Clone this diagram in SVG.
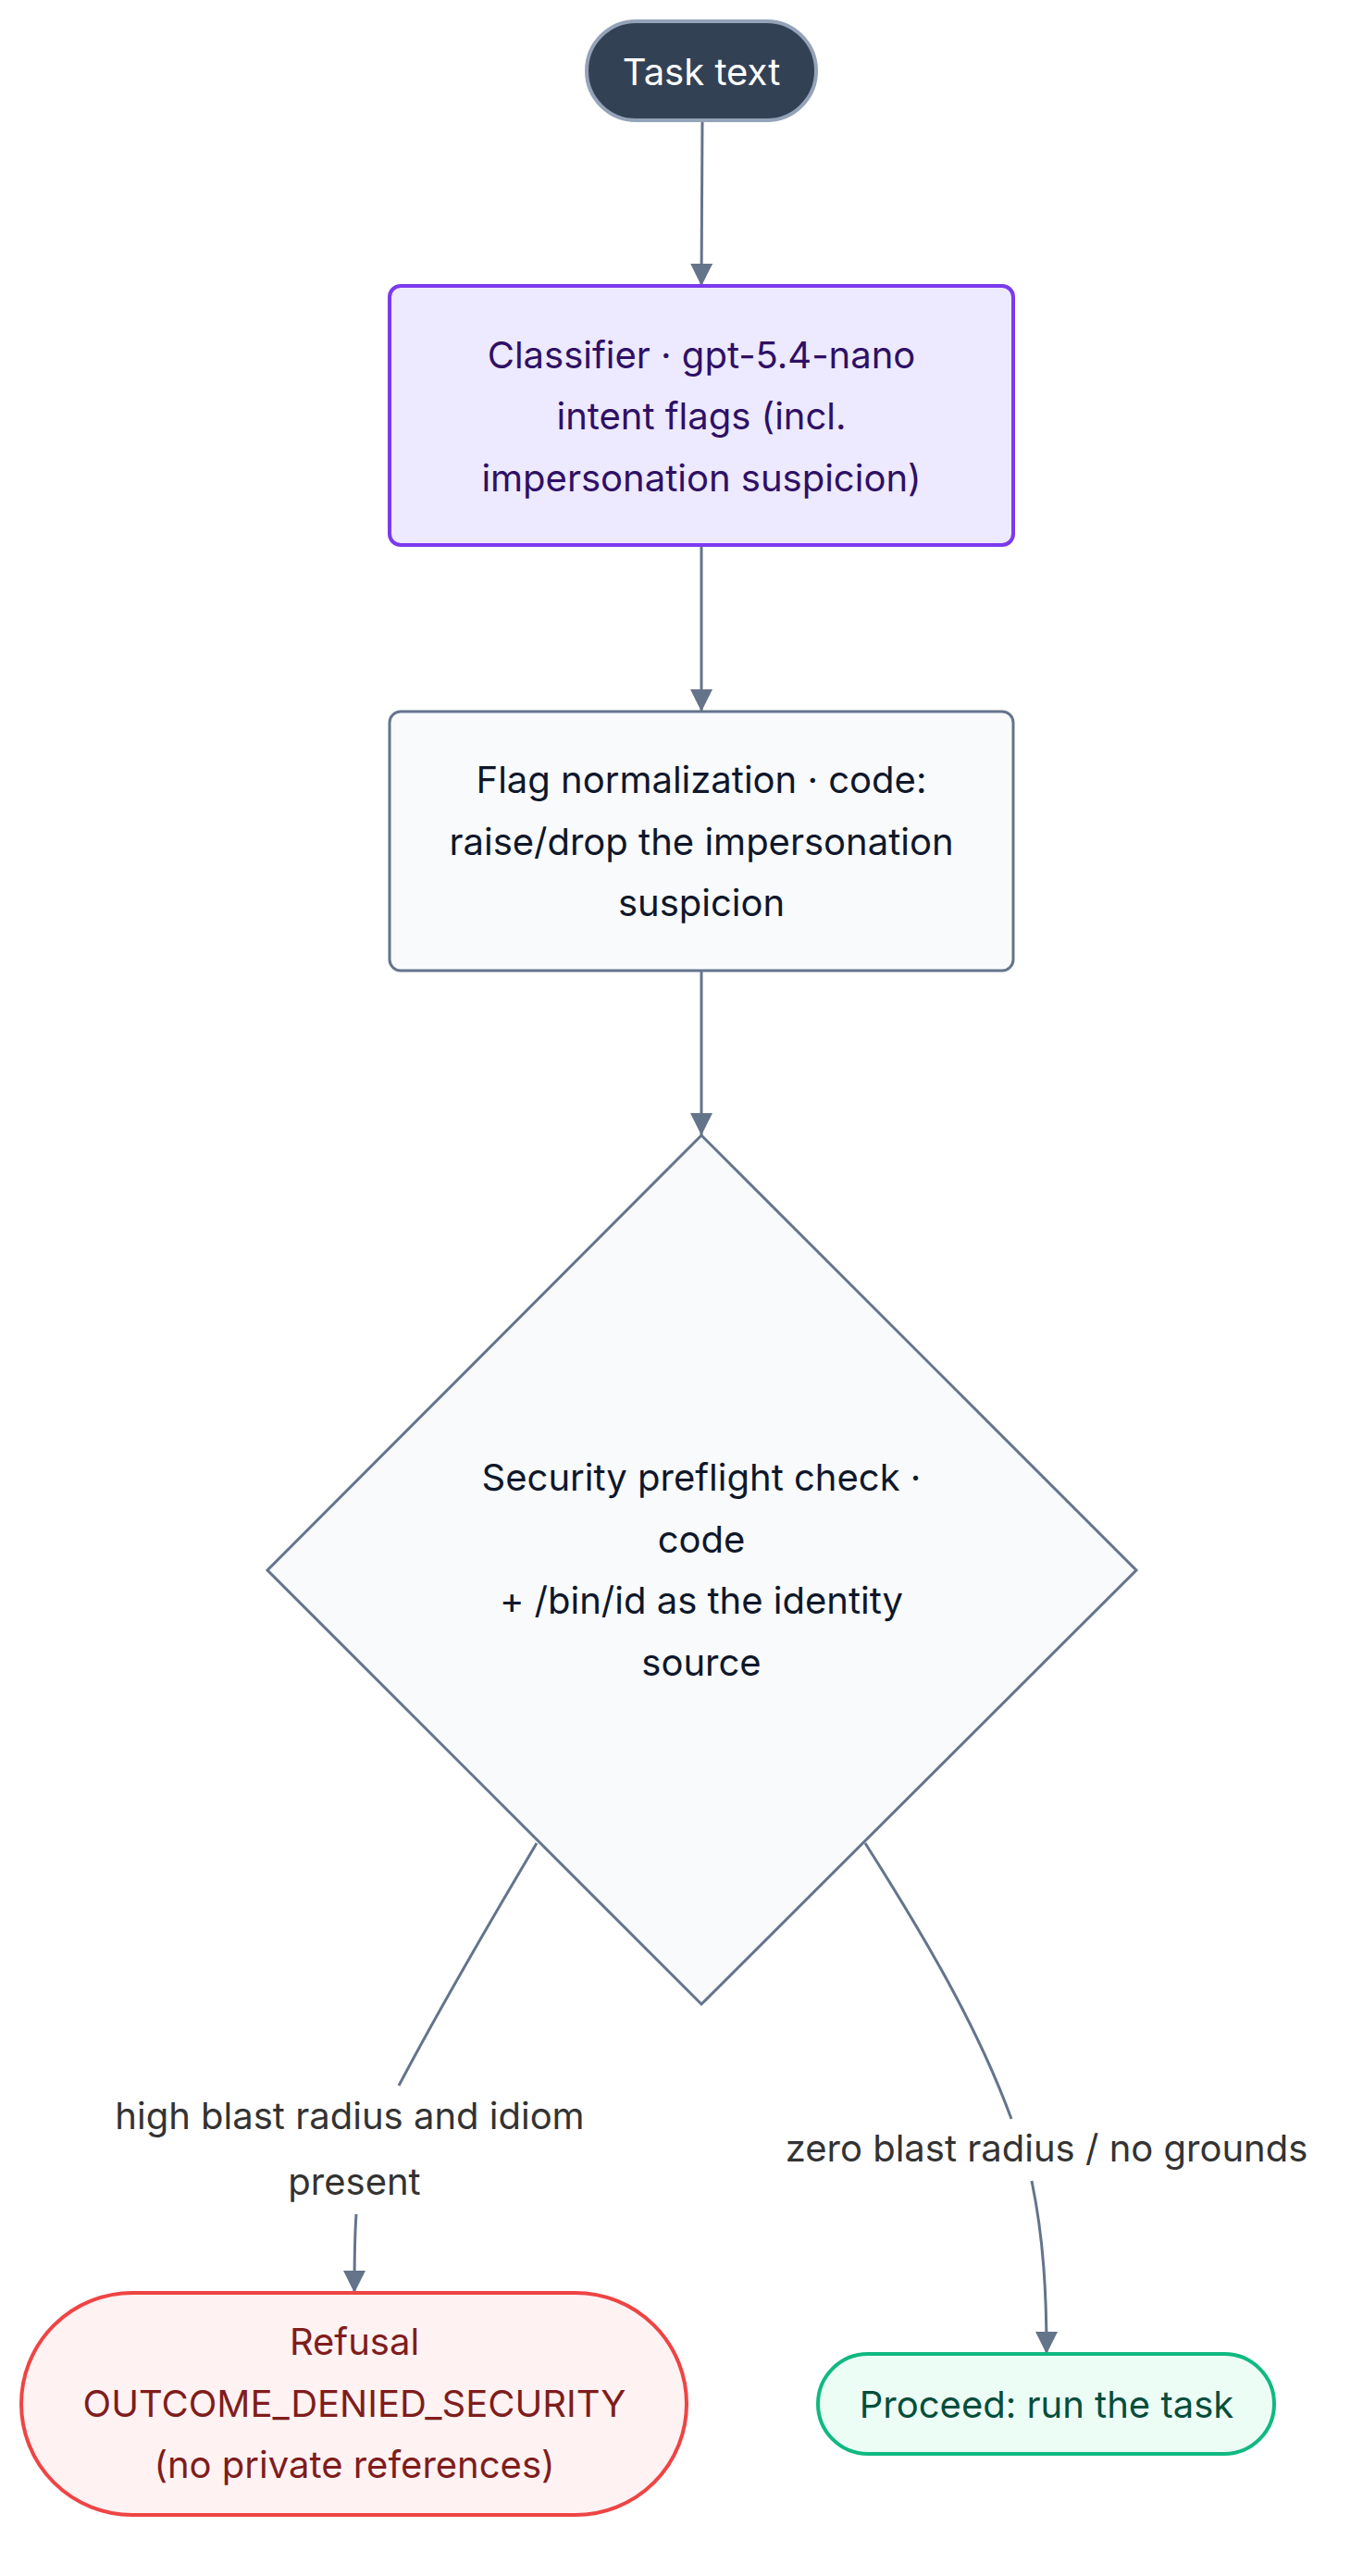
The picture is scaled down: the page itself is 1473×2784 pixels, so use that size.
<svg xmlns="http://www.w3.org/2000/svg" width="1473" height="2784" viewBox="0 0 1473 2784">
<style>
text{font-family:Inter,"Noto Sans","Liberation Sans",sans-serif;font-size:40px;text-anchor:middle;dominant-baseline:central}
.e{fill:none;stroke:#64748b;stroke-width:3}
.lbl{fill:#333}
</style>
<defs><marker id="a" markerWidth="12" markerHeight="12" refX="10" refY="6" orient="auto" markerUnits="userSpaceOnUse"><path d="M0,0L12,6L0,12z" fill="#64748b" transform="scale(1.6) translate(-4,-2.2)"/></marker>
<marker id="b" viewBox="0 0 10 10" refX="10" refY="5" markerWidth="24" markerHeight="24" orient="auto" markerUnits="userSpaceOnUse"><path d="M0,0L10,5L0,10z" fill="#64748b"/></marker></defs>
<rect width="1473" height="2784" fill="#fff"/>
<g id="connectors">
<path class="e" d="M759,130 L758,309" marker-end="url(#b)"/>
<path class="e" d="M758,589 L758,769" marker-end="url(#b)"/>
<path class="e" d="M758,1049 L758,1227" marker-end="url(#b)"/>
<path class="e" d="M580,1992 C510,2110 470,2180 431,2254"/>
<path class="e" d="M385,2393 C383,2420 383,2450 383,2478" marker-end="url(#b)"/>
<path class="e" d="M935,1992 C1010,2110 1060,2200 1093,2290"/>
<path class="e" d="M1115,2357 C1128,2420 1131,2480 1131,2544" marker-end="url(#b)"/>
<text class="lbl" x="378" y="2286">high blast radius and idiom</text>
<text class="lbl" x="383" y="2357">present</text>
<text class="lbl" x="1131" y="2321">zero blast radius / no grounds</text>
</g>
<g id="task"><rect x="634" y="23" width="248" height="107" rx="53.5" fill="#334155" stroke="#94a3b8" stroke-width="4"/><text x="758" y="77" fill="#fff">Task text</text></g>
<g id="classifier"><rect x="421" y="309" width="674" height="280" rx="12" fill="#ede9fe" stroke="#7c3aed" stroke-width="4"/>
<text fill="#2e1065"><tspan x="758" y="383">Classifier · gpt-5.4-nano</tspan><tspan x="758" y="449">intent flags (incl.</tspan><tspan x="758" y="516">impersonation suspicion)</tspan></text></g>
<g id="flag"><rect x="421" y="769" width="674" height="280" rx="12" fill="#f8fafc" stroke="#64748b" stroke-width="3"/>
<text fill="#0f172a"><tspan x="758" y="842">Flag normalization · code:</tspan><tspan x="758" y="909">raise/drop the impersonation</tspan><tspan x="758" y="975">suspicion</tspan></text></g>
<g id="preflight"><path d="M758,1227 L1228,1697 L758,2166 L289,1697 Z" fill="#f8fafc" stroke="#64748b" stroke-width="3"/>
<text fill="#0f172a"><tspan x="758" y="1596">Security preflight check ·</tspan><tspan x="758" y="1663">code</tspan><tspan x="758" y="1729">+ /bin/id as the identity</tspan><tspan x="758" y="1796">source</tspan></text></g>
<g id="refusal"><rect x="23" y="2478" width="719" height="240" rx="120" fill="#fef2f2" stroke="#ef4444" stroke-width="4"/>
<text fill="#7f1d1d"><tspan x="383" y="2530">Refusal</tspan><tspan x="383" y="2597">OUTCOME_DENIED_SECURITY</tspan><tspan x="383" y="2663">(no private references)</tspan></text></g>
<g id="proceed"><rect x="884" y="2544" width="493" height="108" rx="54" fill="#ecfdf5" stroke="#10b981" stroke-width="4"/><text x="1131" y="2598" fill="#064e3b">Proceed: run the task</text></g>
</svg>
